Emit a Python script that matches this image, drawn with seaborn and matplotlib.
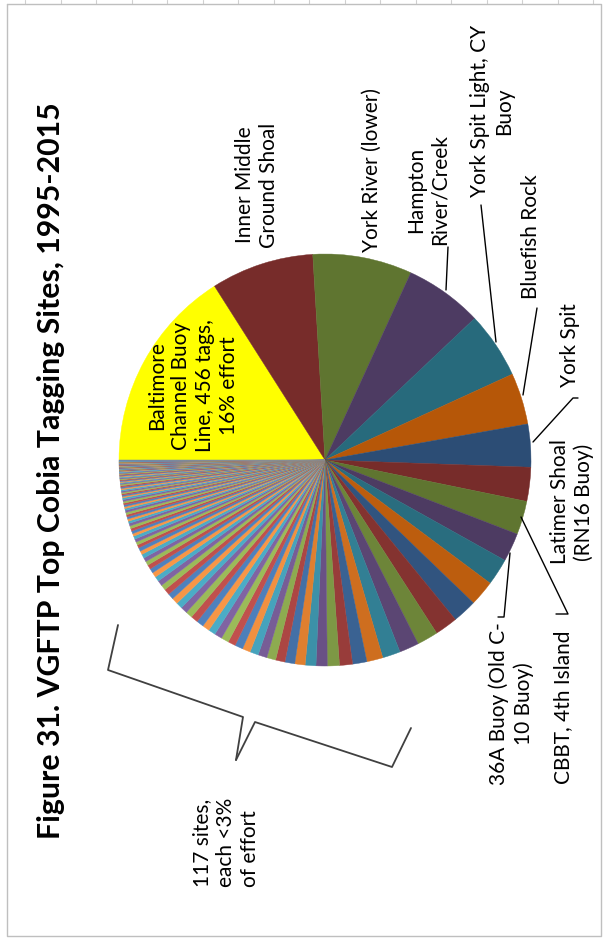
import numpy as np
import matplotlib
matplotlib.use("Agg")
import matplotlib.pyplot as plt
import seaborn as sns

# tags per site, sorted largest first (Baltimore = 456 tags, 16%)
top_sites = ['Baltimore Channel Buoy Line', 'Inner Middle Ground Shoal', 'York River (lower)',
             'Hampton River/Creek', 'York Spit Light, CY Buoy', 'Bluefish Rock', 'York Spit',
             'Latimer Shoal (RN16 Buoy)', 'CBBT, 4th Island', '36A Buoy (Old C-10 Buoy)']
top_tags = [456, 230, 222, 174, 149, 115, 96, 76, 75, 64]

# 117 smaller sites, each <3% of effort
other_tags = [60, 57, 54, 51, 47, 44, 40, 36, 32, 29, 27,
              25, 24, 23, 22, 21, 20, 20, 19, 18, 18, 17, 17, 16, 16,
              17, 16, 16, 15, 15, 14, 14, 13, 13, 12,
              12, 11, 11, 10, 10, 9, 9, 9, 8, 8,
              7, 7, 7, 7, 6, 6, 6, 6, 6, 5,
              5, 5, 5, 5, 5, 4, 4, 4, 4, 4,
              4, 4, 3, 3, 3, 3, 3, 3, 3, 3,
              3, 3, 2, 2, 2, 2, 2, 2, 2, 2,
              2, 2, 2, 2, 2, 2, 1, 1, 1, 1,
              1, 1, 1, 1, 1, 1, 1, 1, 1, 1,
              1, 1, 1, 1, 1, 1, 1, 1, 1, 1, 1, 1]
other_tags = sorted(other_tags, reverse=True)

tags = top_tags + other_tags

sns.set_style('white')
plt.rcParams['font.family'] = ['Lato', 'DejaVu Sans']

W, H = 605, 938
fig = plt.figure(figsize=(W / 100, H / 100), dpi=100)

# excel 2007 palette, dark shade for the big slices -> base shade for the small ones
base = sns.color_palette(['#4F81BD', '#C0504D', '#9BBB59', '#8064A2', '#4BACC6', '#F79646'])
dark = sns.color_palette(['#2C4D75', '#772C2A', '#5F7530', '#4D3B62', '#276A7C', '#B65708'])
colors = []
for i in range(len(tags)):
    if i == 0:
        colors.append('#FFFF00')
        continue
    t = min(1.0, max(0.0, (i - 9) / 22))
    c = np.array(dark[i % 6]) * (1 - t) + np.array(base[i % 6]) * t
    colors.append(tuple(c))

# pie centred at (325, 460) px, radius 206 px, turned on its side like the source
cx, cy, r = 325, 460, 206
ax_pie = fig.add_axes([(cx - r) / W, (H - cy - r) / H, 2 * r / W, 2 * r / H])
wedges, _ = ax_pie.pie(tags, colors=colors, startangle=180, counterclock=False,
                       radius=1, wedgeprops=dict(linewidth=0))
for w in wedges:
    w.set_edgecolor(w.get_facecolor())
    w.set_linewidth(0.3)
ax_pie.set_xlim(-1, 1)
ax_pie.set_ylim(-1, 1)
ax_pie.axis('off')

# overlay in pixel coordinates for text, leaders and frame
ax = fig.add_axes([0, 0, 1, 1], zorder=3)
ax.set_xlim(0, W)
ax.set_ylim(H, 0)
ax.axis('off')
ax.patch.set_alpha(0)

# sheet gridlines and chart frame
for gx in np.arange(25, W, 35.5):
    ax.plot([gx, gx], [0, 4], color='#D0D0D0', lw=0.8)
ax.plot([7, 601, 601, 7, 7], [4, 4, 936, 936, 4], color='#BFBFBF', lw=1)

ax.text(51, 471, 'Figure 31. VGFTP Top Cobia Tagging Sites, 1995-2015', rotation=90,
        ha='center', va='center', fontsize=21.8, fontweight='bold', color='black')

lab = dict(rotation=90, ha='center', va='center', fontsize=15, color='black',
           linespacing=1.25, multialignment='center')
ax.text(193, 386, 'Baltimore\nChannel Buoy\nLine, 456 tags,\n16% effort', **lab)
ax.text(257, 185, 'Inner Middle\nGround Shoal', **lab)
ax.text(372, 170, 'York River (lower)', **lab)
ax.text(428, 190, 'Hampton\nRiver/Creek', **lab)
ax.text(492, 111, 'York Spit Light, CY\nBuoy', **lab)
ax.text(531, 237, 'Bluefish Rock', **lab)
ax.text(570, 345, 'York Spit', **lab)
ax.text(572, 502, 'Latimer Shoal\n(RN16 Buoy)', **lab)
ax.text(563, 707, 'CBBT, 4th Island', **lab)
ax.text(511, 704, '36A Buoy (Old C-\n10 Buoy)', **lab)
ax.text(226, 842, '117 sites,\neach <3%\nof effort', **{**lab, 'multialignment': 'left'})

# leader lines
lk = dict(color='black', lw=1)
ax.plot([446, 448], [290, 247], **lk)
ax.plot([496, 481], [342, 205], **lk)
ax.plot([523, 537], [395, 308], **lk)
ax.plot([533, 573, 578], [442, 398, 398], **lk)
ax.plot([521, 568, 556], [517, 614, 614], **lk)
ax.plot([510, 504, 498], [553, 617, 617], **lk)

# brace over the small sites
ax.plot([118, 108, 243, 236], [625, 670, 717, 760], color='#404040', lw=1.3)
ax.plot([236, 255, 392, 411], [760, 722, 767, 728], color='#404040', lw=1.3)

fig.savefig('out.png', dpi=100)
